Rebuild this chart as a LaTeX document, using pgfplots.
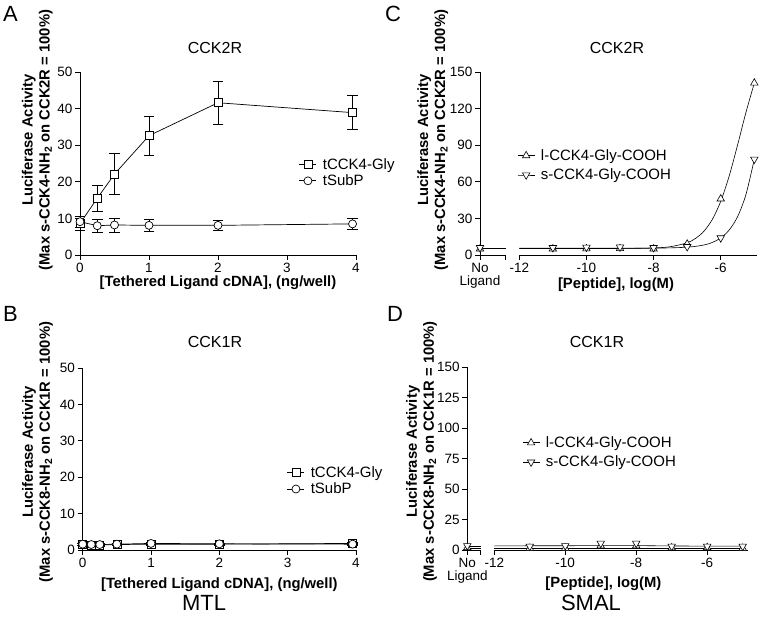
\documentclass[border=0pt]{standalone}
\usepackage{pgfplots}
\pgfplotsset{compat=1.18}
\usepackage{fontspec}
\setmainfont{Liberation Sans}

\newcommand\tickfont{\fontsize{13.5}{13}\selectfont}
\newcommand\labfont{\fontsize{14.8}{17}\selectfont\bfseries}
\newcommand\legfont{\fontsize{15}{17}\selectfont}
\newcommand\titfont{\fontsize{16}{18}\selectfont}
\newcommand\bigfont{\fontsize{22}{26}\selectfont}

\pgfplotsset{
  prism/.style={
    scale only axis,
    clip=false,
    axis x line*=bottom, axis y line*=left,
    axis line style={-, line width=0.8pt},
    tick align=outside,
    major tick length=5pt,
    tick style={line width=0.8pt, black},
    ticklabel style={font=\tickfont},
    xticklabel style={inner sep=3pt},
    yticklabel style={inner sep=2.5pt},
    /pgf/number format/assume math mode=true,
    ylabel style={font=\labfont, align=center, anchor=center},
    xlabel style={font=\labfont, anchor=center},
    legend style={draw=none, fill=none, font=\legfont, anchor=west,
      legend cell align=left, inner sep=0pt, column sep=4pt},
    legend image post style={mark size=3pt},
  },
  sq/.style={black, line width=0.7pt, mark=square*,
    mark options={fill=white, mark size=4pt, line width=0.7pt}},
  ci/.style={black, line width=0.7pt, mark=*,
    mark options={fill=white, mark size=4pt, line width=0.7pt}},
  up/.style={black, line width=0.6pt, mark=triangle*,
    mark options={fill=white, mark size=4.3pt, line width=0.6pt}},
  dn/.style={black, line width=0.6pt, mark=triangle*,
    mark options={fill=white, mark size=4.3pt, line width=0.6pt, rotate=180}},
  eb/.style={error bars/.cd, y dir=both, y explicit,
    error bar style={line width=0.8pt},
    error mark options={rotate=90, mark size=5.3pt, line width=0.8pt}},
}

\begin{document}
\begin{tikzpicture}
\path (0pt,0pt) rectangle (761pt,621pt);

% ---------------- A ----------------
\begin{axis}[prism,
  at={(80pt,366pt)}, anchor=south west, width=276pt, height=183pt,
  xmin=0, xmax=4, ymin=0, ymax=50,
  xtick={0,1,2,3,4}, ytick={0,10,...,50},
  xlabel={[Tethered Ligand cDNA], (ng/well)},
  xlabel style={at={(axis description cs:0.5,-0.15)}},
  ylabel={Luciferase Activity\\(Max s-CCK4-NH\textsubscript{2} on CCK2R = 100\%)},
  ylabel style={at={(axis description cs:-0.155,0.628)}},
  legend style={at={(axis description cs:0.793,0.45)}},
]
\addplot+[sq, eb] table[x=x, y=y, y error=e] {
x y e
0 8.6 2.0
0.25 15.5 3.65
0.5 22.1 5.6
1 32.6 5.4
2 41.6 5.9
3.95 38.9 4.7
};
\addlegendentry{tCCK4-Gly}
\addplot+[ci, eb] table[x=x, y=y, y error=e] {
x y e
0 9.1 1.5
0.25 8.0 1.7
0.5 8.2 1.9
1 8.1 1.6
2 8.1 1.4
3.95 8.5 1.6
};
\addlegendentry{tSubP}
\end{axis}

% ---------------- B ----------------
\begin{axis}[prism,
  at={(82.7pt,71pt)}, anchor=south west, width=273.3pt, height=182pt,
  xmin=0, xmax=4, ymin=0, ymax=50,
  xtick={0,1,2,3,4}, ytick={0,10,...,50},
  xlabel={[Tethered Ligand cDNA], (ng/well)},
  xlabel style={at={(axis description cs:0.5,-0.19)}},
  ylabel={Luciferase Activity\\(Max s-CCK8-NH\textsubscript{2} on CCK1R = 100\%)},
  ylabel style={at={(axis description cs:-0.165,0.538)}},
  legend style={at={(axis description cs:0.747,0.38)}},
]
\addplot+[sq, eb] table[x=x, y=y, y error=e] {
x y e
0 1.5 0.3
0.125 1.4 0.3
0.25 1.4 0.3
0.5 1.5 0.3
1 1.6 0.3
2 1.6 0.3
3.95 1.8 0.3
};
\addlegendentry{tCCK4-Gly}
\addplot+[ci, eb] table[x=x, y=y, y error=e] {
x y e
0 1.6 0.2
0.125 1.5 0.2
0.25 1.5 0.2
0.5 1.6 0.2
1 1.8 0.2
2 1.7 0.2
3.95 1.6 0.2
};
\addlegendentry{tSubP}
\end{axis}

% ---------------- C ----------------
\begin{axis}[prism,
  at={(480pt,366pt)}, anchor=south west, width=277pt, height=183pt,
  xmin=-13.17, xmax=-4.92, ymin=0, ymax=150,
  x axis line style={draw=none},
  xtick={-13.17,-12.4,-12,-10,-8,-6},
  xticklabels={{No\\Ligand},{},-12,-10,-8,-6},
  xticklabel style={align=center},
  ytick={0,30,...,150},
  xlabel={[Peptide], log(M)},
  xlabel style={at={(axis description cs:0.491,-0.165)}},
  ylabel={Luciferase Activity\\(Max s-CCK4-NH\textsubscript{2} on CCK2R = 100\%)},
  ylabel style={at={(axis description cs:-0.17,0.628)}},
  legend style={at={(axis description cs:0.134,0.49)}, row sep=3pt},
]
\draw[line width=0.8pt] (axis cs:-13.17,0) -- (axis cs:-12.4,0);
\draw[line width=0.8pt] (axis cs:-12,0) -- (axis cs:-4.92,0);
% fitted curves
\addplot[black, line width=0.6pt, forget plot] coordinates {
(-13.17,5.3) (-12.4,5.3)};
\addplot[black, line width=0.6pt, forget plot] coordinates {
(-13.17,5.6) (-12.4,5.6)};
\addplot[black, line width=0.6pt, smooth, forget plot] coordinates {
(-12,5.3) (-10,5.3) (-9,5.35) (-8,5.8) (-7.5,6.8) (-7,10.0) (-6.75,13.6)
(-6.5,19.5) (-6.25,29.2) (-6,44.0) (-5.75,64.6) (-5.5,90.0) (-5.25,116.8) (-5,140.9)};
\addplot[black, line width=0.6pt, smooth, forget plot] coordinates {
(-12,5.5) (-10,5.5) (-8,5.6) (-7,6.4) (-6.5,8.2) (-6.25,10.3) (-6,14.0)
(-5.75,20.4) (-5.5,31.3) (-5.25,49.5) (-5,78.5)};
% data points
\addplot[up, only marks, forget plot] coordinates {
(-13.17,5.0) (-11,5.0) (-10,5.2) (-9,5.3) (-8,5.0) (-7,9.0) (-6,46) (-5,141)};
\addplot[dn, only marks, forget plot] coordinates {
(-13.17,6.0) (-11,6.0) (-10,6.3) (-9,6.5) (-8,6.0) (-7,6.8) (-6,14) (-5,78.5)};
\addlegendimage{up}
\addlegendentry{l-CCK4-Gly-COOH}
\addlegendimage{dn}
\addlegendentry{s-CCK4-Gly-COOH}
\end{axis}

% ---------------- D ----------------
\begin{axis}[prism,
  at={(467.3pt,71pt)}, anchor=south west, width=280.7pt, height=183pt,
  xmin=-12.76, xmax=-4.85, ymin=0, ymax=150,
  x axis line style={draw=none},
  xtick={-12.76,-12.38,-12,-10,-8,-6},
  xticklabels={{No\\Ligand},{},-12,-10,-8,-6},
  xticklabel style={align=center},
  ytick={0,25,...,150},
  xlabel={[Peptide], log(M)},
  xlabel style={at={(axis description cs:0.485,-0.185)}},
  ylabel={Luciferase Activity\\(Max s-CCK8-NH\textsubscript{2} on CCK1R = 100\%)},
  ylabel style={at={(axis description cs:-0.163,0.538)}},
  legend style={at={(axis description cs:0.195,0.533)}, row sep=3pt},
]
\draw[line width=0.8pt] (axis cs:-12.76,0) -- (axis cs:-12.38,0);
\draw[line width=0.8pt] (axis cs:-12,0) -- (axis cs:-4.85,0);
% fitted curves
\addplot[black, line width=0.6pt, forget plot] coordinates {
(-12.76,1.2) (-12.38,1.2)};
\addplot[black, line width=0.6pt, forget plot] coordinates {
(-12.76,3.4) (-12.38,3.4)};
\addplot[black, line width=0.6pt, forget plot] coordinates {
(-12,1.2) (-5,1.2)};
\addplot[black, line width=0.6pt, smooth, forget plot] coordinates {
(-12,3.4) (-10,3.5) (-9,3.6) (-8,3.6) (-7,3.3) (-6,3.2) (-5,3.2)};
% data points
\addplot[up, only marks, forget plot] coordinates {
(-12.76,2.0) (-11,1.5) (-10,1.5) (-9,3.5) (-8,3.5) (-7,1.8) (-6,2.0) (-5,1.5)};
\addplot[dn, only marks, forget plot] coordinates {
(-12.76,3.5) (-11,3.0) (-10,3.5) (-9,5.5) (-8,5.5) (-7,3.0) (-6,3.0) (-5,3.0)};
\addlegendimage{up}
\addlegendentry{l-CCK4-Gly-COOH}
\addlegendimage{dn}
\addlegendentry{s-CCK4-Gly-COOH}
\end{axis}

% titles and panel labels
\node[font=\titfont] at (215pt,573pt) {CCK2R};
\node[font=\titfont] at (617pt,573pt) {CCK2R};
\node[font=\titfont] at (215pt,279pt) {CCK1R};
\node[font=\titfont] at (597pt,279pt) {CCK1R};
\node[font=\bigfont, anchor=base west, inner sep=0pt] at (3pt,599pt) {A};
\node[font=\bigfont, anchor=base west, inner sep=0pt] at (385pt,599pt) {C};
\node[font=\bigfont, anchor=base west, inner sep=0pt] at (3pt,299pt) {B};
\node[font=\bigfont, anchor=base west, inner sep=0pt] at (387pt,299pt) {D};
\node[font=\bigfont] at (204pt,18pt) {MTL};
\node[font=\bigfont] at (591pt,18pt) {SMAL};
\end{tikzpicture}
\end{document}
